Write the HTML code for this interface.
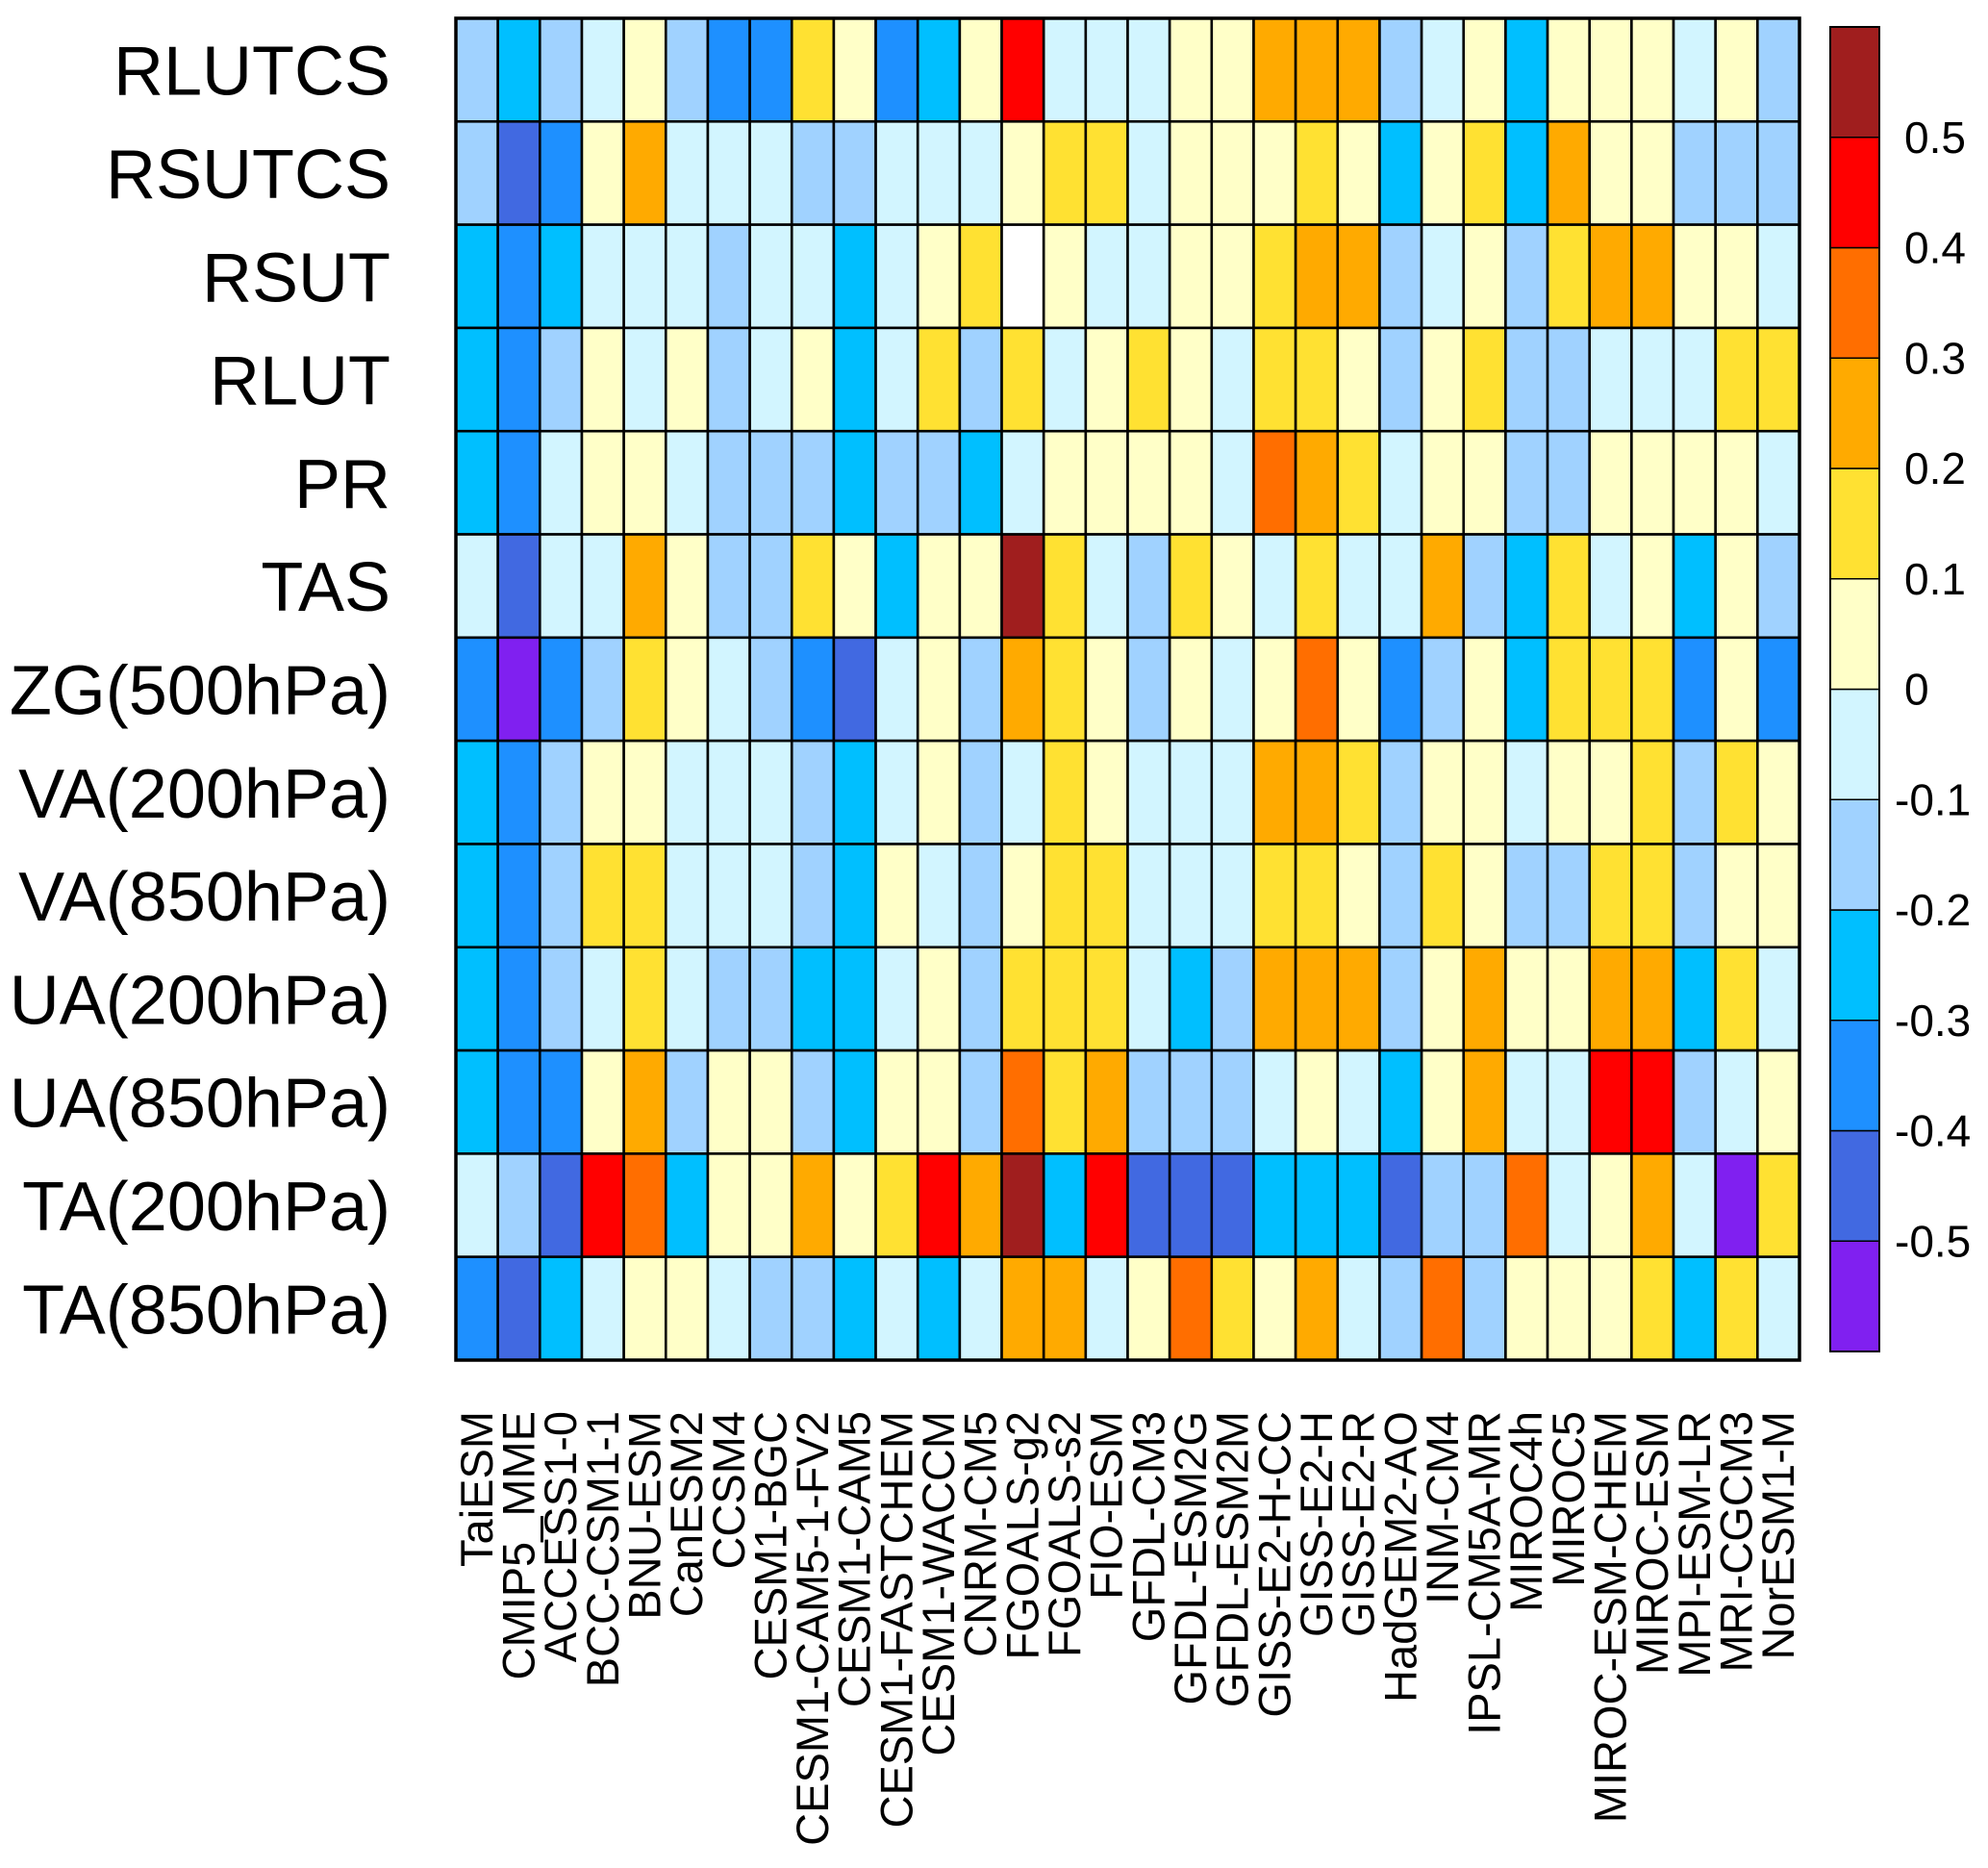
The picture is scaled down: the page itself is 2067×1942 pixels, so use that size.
<!DOCTYPE html>
<html>
<head>
<meta charset="utf-8">
<style>
html,body{margin:0;padding:0;background:#fff;}
svg{display:block;font-family:"Liberation Sans",Arial,sans-serif;}
</style>
</head>
<body>
<svg id="chart" width="2067" height="1942" viewBox="0 0 2067 1942" xmlns="http://www.w3.org/2000/svg">
<g id="cells"></g>
<g id="ylabels"></g>
<g id="xlabels"></g>
<g id="cbar"></g>
</svg>
<script>
const variables = ["RLUTCS","RSUTCS","RSUT","RLUT","PR","TAS","ZG(500hPa)","VA(200hPa)","VA(850hPa)","UA(200hPa)","UA(850hPa)","TA(200hPa)","TA(850hPa)"];
const models = ["TaiESM","CMIP5_MME","ACCESS1-0","BCC-CSM1-1","BNU-ESM","CanESM2","CCSM4","CESM1-BGC","CESM1-CAM5-1-FV2","CESM1-CAM5","CESM1-FASTCHEM","CESM1-WACCM","CNRM-CM5","FGOALS-g2","FGOALS-s2","FIO-ESM","GFDL-CM3","GFDL-ESM2G","GFDL-ESM2M","GISS-E2-H-CC","GISS-E2-H","GISS-E2-R","HadGEM2-AO","INM-CM4","IPSL-CM5A-MR","MIROC4h","MIROC5","MIROC-ESM-CHEM","MIROC-ESM","MPI-ESM-LR","MRI-CGCM3","NorESM1-M"];
const levels = [-0.5,-0.4,-0.3,-0.2,-0.1,0,0.1,0.2,0.3,0.4,0.5];
const levelLabels = ["-0.5","-0.4","-0.3","-0.2","-0.1","0","0.1","0.2","0.3","0.4","0.5"];
const palette = ["#8020F0","#4169E1","#1E90FF","#00BFFF","#A0D2FF","#D2F5FF","#FFFFC8","#FFE132","#FFAA00","#FF6E00","#FF0000","#A01E1E"];
const rowRLUTCS = [-0.15,-0.25,-0.15,-0.05,0.05,-0.15,-0.35,-0.35,0.15,0.05,-0.35,-0.25,0.05,0.45,-0.05,-0.05,-0.05,0.05,0.05,0.25,0.25,0.25,-0.15,-0.05,0.05,-0.25,0.05,0.05,0.05,-0.05,0.05,-0.15];
const rowRSUTCS = [-0.15,-0.45,-0.35,0.05,0.25,-0.05,-0.05,-0.05,-0.15,-0.15,-0.05,-0.05,-0.05,0.05,0.15,0.15,-0.05,0.05,0.05,0.05,0.15,0.05,-0.25,0.05,0.15,-0.25,0.25,0.05,0.05,-0.15,-0.15,-0.15];
const rowRSUT = [-0.25,-0.35,-0.25,-0.05,-0.05,-0.05,-0.15,-0.05,-0.05,-0.25,-0.05,0.05,0.15,null,0.05,-0.05,-0.05,0.05,0.05,0.15,0.25,0.25,-0.15,-0.05,0.05,-0.15,0.15,0.25,0.25,0.05,0.05,-0.05];
const rowRLUT = [-0.25,-0.35,-0.15,0.05,-0.05,0.05,-0.15,-0.05,0.05,-0.25,-0.05,0.15,-0.15,0.15,-0.05,0.05,0.15,0.05,-0.05,0.15,0.15,0.05,-0.15,0.05,0.15,-0.15,-0.15,-0.05,-0.05,-0.05,0.15,0.15];
const rowPR = [-0.25,-0.35,-0.05,0.05,0.05,-0.05,-0.15,-0.15,-0.15,-0.25,-0.15,-0.15,-0.25,-0.05,0.05,0.05,0.05,0.05,-0.05,0.35,0.25,0.15,-0.05,0.05,0.05,-0.15,-0.15,0.05,0.05,0.05,0.05,-0.05];
const rowTAS = [-0.05,-0.45,-0.05,-0.05,0.25,0.05,-0.15,-0.15,0.15,0.05,-0.25,0.05,0.05,0.55,0.15,-0.05,-0.15,0.15,0.05,-0.05,0.15,-0.05,-0.05,0.25,-0.15,-0.25,0.15,-0.05,0.05,-0.25,0.05,-0.15];
const rowZG500 = [-0.35,-0.55,-0.35,-0.15,0.15,0.05,-0.05,-0.15,-0.35,-0.45,-0.05,0.05,-0.15,0.25,0.15,0.05,-0.15,0.05,-0.05,0.05,0.35,0.05,-0.35,-0.15,0.05,-0.25,0.15,0.15,0.15,-0.35,0.05,-0.35];
const rowVA200 = [-0.25,-0.35,-0.15,0.05,0.05,-0.05,-0.05,-0.05,-0.15,-0.25,-0.05,0.05,-0.15,-0.05,0.15,0.05,-0.05,-0.05,-0.05,0.25,0.25,0.15,-0.15,0.05,0.05,-0.05,0.05,0.05,0.15,-0.15,0.15,0.05];
const rowVA850 = [-0.25,-0.35,-0.15,0.15,0.15,-0.05,-0.05,-0.05,-0.15,-0.25,0.05,-0.05,-0.15,0.05,0.15,0.15,-0.05,-0.05,-0.05,0.15,0.15,0.05,-0.15,0.15,0.05,-0.15,-0.15,0.15,0.15,-0.15,0.05,0.05];
const rowUA200 = [-0.25,-0.35,-0.15,-0.05,0.15,-0.05,-0.15,-0.15,-0.25,-0.25,-0.05,0.05,-0.15,0.15,0.15,0.15,-0.05,-0.25,-0.15,0.25,0.25,0.25,-0.15,0.05,0.25,0.05,0.05,0.25,0.25,-0.25,0.15,-0.05];
const rowUA850 = [-0.25,-0.35,-0.35,0.05,0.25,-0.15,0.05,0.05,-0.15,-0.25,0.05,0.05,-0.15,0.35,0.15,0.25,-0.15,-0.15,-0.15,-0.05,0.05,-0.05,-0.25,0.05,0.25,-0.05,-0.05,0.45,0.45,-0.15,-0.05,0.05];
const rowTA200 = [-0.05,-0.15,-0.45,0.45,0.35,-0.25,0.05,0.05,0.25,0.05,0.15,0.45,0.25,0.55,-0.25,0.45,-0.45,-0.45,-0.45,-0.25,-0.25,-0.25,-0.45,-0.15,-0.15,0.35,-0.05,0.05,0.25,-0.05,-0.55,0.15];
const rowTA850 = [-0.35,-0.45,-0.25,-0.05,0.05,0.05,-0.05,-0.15,-0.15,-0.25,-0.05,-0.25,-0.05,0.25,0.25,-0.05,0.05,0.35,0.15,0.05,0.25,-0.05,-0.15,0.35,-0.15,0.05,0.05,0.05,0.15,-0.25,0.15,-0.05];
const values = [rowRLUTCS,rowRSUTCS,rowRSUT,rowRLUT,rowPR,rowTAS,rowZG500,rowVA200,rowVA850,rowUA200,rowUA850,rowTA200,rowTA850];

const NS = "http://www.w3.org/2000/svg";
const plotL = 474, plotR = 1871, plotT = 19, plotB = 1414;
const cw = (plotR - plotL) / models.length;
const rh = (plotB - plotT) / variables.length;
function xPos(i){ return plotL + i * cw; }
function yPos(j){ return plotT + j * rh; }
function colorFor(v){
  if (v === null || v === undefined) return "#FFFFFF";
  let k = 0;
  while (k < levels.length && v >= levels[k]) k++;
  return palette[k];
}
function mk(tag, attrs){
  const e = document.createElementNS(NS, tag);
  for (const k in attrs) e.setAttribute(k, attrs[k]);
  return e;
}
const cells = document.getElementById("cells");
for (let j = 0; j < variables.length; j++) {
  for (let i = 0; i < models.length; i++) {
    const r = mk("rect", {x: xPos(i), y: yPos(j), width: cw, height: rh, fill: colorFor(values[j][i]), stroke: "#000", "stroke-width": 2.6});
    
    
    cells.appendChild(r);
  }
}
const frame = mk("rect", {x: plotL, y: plotT, width: plotR - plotL, height: plotB - plotT, fill: "none", stroke: "#000", "stroke-width": 3.5});


cells.appendChild(frame);

const yl = document.getElementById("ylabels");
for (let j = 0; j < variables.length; j++) {
  const t = mk("text", {x: 406, y: yPos(j) + rh / 2 + 26, "text-anchor": "end", "font-size": 72, fill: "#000"});
  t.textContent = variables[j];
  
  
  yl.appendChild(t);
}
const xl = document.getElementById("xlabels");
for (let i = 0; i < models.length; i++) {
  const cx = xPos(i) + cw / 2 + 16;
  const t = mk("text", {x: cx, y: 1467, "text-anchor": "end", "font-size": 47, fill: "#000", transform: "rotate(-90 " + cx + " 1467)"});
  t.textContent = models[i];
  
  
  xl.appendChild(t);
}
const cb = document.getElementById("cbar");
const cbL = 1903, cbW = 51, cbT = 28, cbB = 1405;
const binH = (cbB - cbT) / palette.length;
for (let k = 0; k < palette.length; k++) {
  const r = mk("rect", {x: cbL, y: cbB - (k + 1) * binH, width: cbW, height: binH, fill: palette[k], stroke: "#000", "stroke-width": 1.5});
  
  
  cb.appendChild(r);
}
const cbf = mk("rect", {x: cbL, y: cbT, width: cbW, height: cbB - cbT, fill: "none", stroke: "#000", "stroke-width": 2});


cb.appendChild(cbf);
for (let k = 0; k < levels.length; k++) {
  const y = cbB - (k + 1) * binH;
  const lab = levelLabels[k];
  const t = mk("text", {x: lab.startsWith("-") ? 1970 : 1980, y: y + 16, "font-size": 46, fill: "#000"});
  t.textContent = lab;
  
  
  cb.appendChild(t);
}
</script>
</body>
</html>
